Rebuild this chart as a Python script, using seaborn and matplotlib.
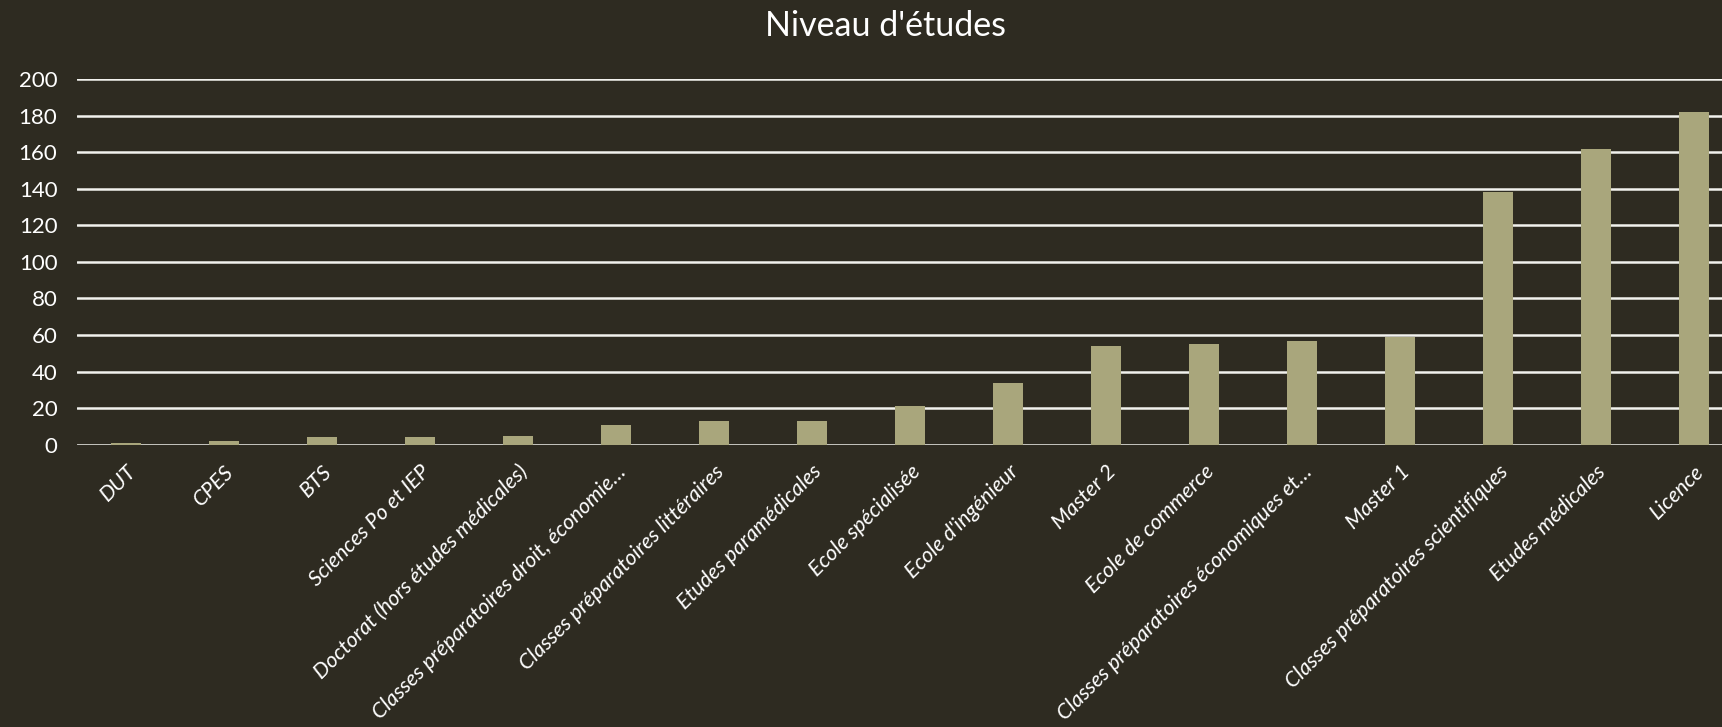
import matplotlib
matplotlib.use("Agg")
import matplotlib.pyplot as plt
import seaborn as sns
import pandas as pd

categories = [
    "DUT", "CPES", "BTS", "Sciences Po et IEP",
    "Doctorat (hors études médicales)",
    "Classes préparatoires droit, économie…",
    "Classes préparatoires littéraires",
    "Etudes paramédicales", "Ecole spécialisée", "Ecole d'ingénieur",
    "Master 2", "Ecole de commerce",
    "Classes préparatoires économiques et…",
    "Master 1", "Classes préparatoires scientifiques",
    "Etudes médicales", "Licence",
]
values = [1, 2, 4, 4, 5, 11, 13, 13, 21, 34, 54, 55, 57, 59, 138, 162, 182]
y_ticks = [0, 20, 40, 60, 80, 100, 120, 140, 160, 180, 200]
title = "Niveau d'études"

BG = "#2E2B21"
BAR = "#A9A67C"

sns.set_theme(style="white")
plt.rcParams["font.family"] = ["Lato", "DejaVu Sans"]

df = pd.DataFrame({"cat": categories, "val": values})

fig = plt.figure(figsize=(17.22, 7.27), dpi=100, facecolor=BG)
ax = fig.add_axes([70 / 1568, 1 - 405 / 662, 1517 / 1568, (405 - 72) / 662])
ax.set_facecolor(BG)

for t in y_ticks:
    ax.axhline(t, color="#F2F2EE", lw=1.8, zorder=0)

sns.barplot(data=df, x="cat", y="val", color=BAR, width=0.31, saturation=1,
            linewidth=0, edgecolor=BAR, ax=ax, zorder=2)

ax.set_ylim(0, 200)
ax.set_xlim(-0.5, len(categories) - 0.5)
ax.set_yticks(y_ticks)
ax.set_yticklabels([str(t) for t in y_ticks], color="white", fontsize=16)
ax.set_xticks(range(len(categories)))
ax.set_xticklabels(categories, rotation=45, ha="right", rotation_mode="anchor",
                   color="white", fontsize=15.5, fontstyle="italic")
ax.tick_params(axis="x", length=0, pad=12)
ax.tick_params(axis="y", length=0, pad=14)
ax.set_xlabel("")
ax.set_ylabel("")
for s in ax.spines.values():
    s.set_visible(False)

fig.text(806 / 1568, 1 - 24 / 662, title, ha="center", va="center",
         color="white", fontsize=24.5)

fig.savefig("out.png", dpi=100, facecolor=BG)
